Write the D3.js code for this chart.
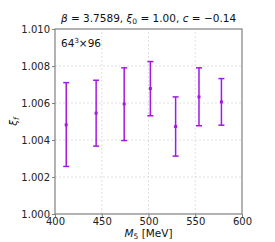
<!DOCTYPE html>
<html>
<head>
<meta charset="utf-8">
<script src="https://cdn.jsdelivr.net/npm/d3@7"></script>
<style>
  body { margin: 0; background: #fff; }
  text { font-family: "DejaVu Sans", sans-serif; }
</style>
</head>
<body>
<div id="chart"></div>
<script>
// chart values
const masses = [412, 444, 474, 502, 529, 554, 578]
const xiCentral = [1.00482, 1.00545, 1.00595, 1.00678, 1.00473, 1.00633, 1.00606]
const xiUpper = [1.0071, 1.00723, 1.0079, 1.00824, 1.00633, 1.0079, 1.00732]
const xiLower = [1.00257, 1.00367, 1.00397, 1.00531, 1.00313, 1.00477, 1.0048]
const xTicks = [400, 450, 500, 550, 600]
const yTicks = [1.000, 1.002, 1.004, 1.006, 1.008, 1.010]

const points = masses.map((m, i) => ({ m: m, c: xiCentral[i], hi: xiUpper[i], lo: xiLower[i] }))

const width = 275,
  height = 242
const margin = { top: 29, right: 33, bottom: 28, left: 55 }

const svg = d3.select("#chart").append("svg").attr("width", width).attr("height", height)

const x = d3.scaleLinear().domain([400, 600]).range([margin.left, width - margin.right])
const y = d3.scaleLinear().domain([1.0, 1.01]).range([height - margin.bottom, margin.top])

// grid lines (dashed)
svg
  .append("g")
  .selectAll("line")
  .data(xTicks.slice(1, -1))
  .enter()
  .append("line")
  .attr("x1", (d) => x(d))
  .attr("x2", (d) => x(d))
  .attr("y1", y.range()[0])
  .attr("y2", y.range()[1])
  .style("stroke", "#d8d8d8")
  .style("stroke-width", 0.8)
  .style("stroke-dasharray", "2,2")

svg
  .append("g")
  .selectAll("line")
  .data(yTicks.slice(1, -1))
  .enter()
  .append("line")
  .attr("x1", x.range()[0])
  .attr("x2", x.range()[1])
  .attr("y1", (d) => y(d))
  .attr("y2", (d) => y(d))
  .style("stroke", "#d8d8d8")
  .style("stroke-width", 0.8)
  .style("stroke-dasharray", "2,2")

// axes
const xAxis = svg
  .append("g")
  .attr("transform", `translate(0,${y.range()[0]})`)
  .call(d3.axisBottom(x).tickValues(xTicks).tickSize(3).tickPadding(2).tickFormat(d3.format("d")))

const yAxis = svg
  .append("g")
  .attr("transform", `translate(${x.range()[0]},0)`)
  .call(d3.axisLeft(y).tickValues(yTicks).tickSize(3).tickPadding(2).tickFormat(d3.format(".3f")))

;[xAxis, yAxis].forEach((a) => {
  a.select(".domain").remove()
  a.selectAll(".tick line").style("stroke", "#808080")
  a.selectAll(".tick text").style("font-size", "10px").style("fill", "#222")
})
xAxis.selectAll(".tick text").attr("dy", "0.6em")
yAxis.selectAll(".tick text").attr("dy", "0.35em")

// frame
svg
  .append("rect")
  .attr("x", x.range()[0])
  .attr("y", y.range()[1])
  .attr("width", x.range()[1] - x.range()[0])
  .attr("height", y.range()[0] - y.range()[1])
  .style("fill", "none")
  .style("stroke", "#808080")
  .style("stroke-width", 1.2)

// error bars
const color = "#9a00e0"
const bars = svg.append("g").selectAll("g").data(points).enter().append("g").style("opacity", 0.9)

bars
  .append("line")
  .attr("x1", (d) => x(d.m))
  .attr("x2", (d) => x(d.m))
  .attr("y1", (d) => y(d.lo))
  .attr("y2", (d) => y(d.hi))
  .style("stroke", color)
  .style("stroke-width", 1.5)

bars
  .selectAll(".cap")
  .data((d) => [d.lo, d.hi].map((v) => ({ m: d.m, v: v })))
  .enter()
  .append("line")
  .attr("x1", (d) => x(d.m) - 3)
  .attr("x2", (d) => x(d.m) + 3)
  .attr("y1", (d) => y(d.v))
  .attr("y2", (d) => y(d.v))
  .style("stroke", color)
  .style("stroke-width", 1.5)

bars
  .append("rect")
  .attr("x", (d) => x(d.m) - 1.5)
  .attr("y", (d) => y(d.c) - 1.5)
  .attr("width", 3)
  .attr("height", 3)
  .style("fill", color)

// texts
svg
  .append("text")
  .attr("x", (x.range()[0] + x.range()[1]) / 2)
  .attr("y", 22)
  .attr("text-anchor", "middle")
  .style("font-size", "10.5px")
  .style("fill", "#111")
  .html('<tspan font-style="italic">β</tspan> = 3.7589, <tspan font-style="italic">ξ</tspan><tspan font-size="7.5px" dy="2">0</tspan><tspan dy="-2"> = 1.00, </tspan><tspan font-style="italic">c</tspan> = −0.14')

svg
  .append("text")
  .attr("x", 61)
  .attr("y", 47)
  .style("font-size", "10.5px")
  .style("fill", "#111")
  .html('64<tspan font-size="7px" dy="-4">3</tspan><tspan dy="4">×96</tspan>')

svg
  .append("text")
  .attr("x", (x.range()[0] + x.range()[1]) / 2)
  .attr("y", 237)
  .attr("text-anchor", "middle")
  .style("font-size", "10.5px")
  .style("fill", "#111")
  .html('<tspan font-style="italic">M</tspan><tspan font-size="7.5px" dy="2">5</tspan><tspan dy="-2"> [MeV]</tspan>')

svg
  .append("text")
  .attr("transform", `translate(17,${(y.range()[0] + y.range()[1]) / 2}) rotate(-90)`)
  .attr("text-anchor", "middle")
  .style("font-size", "10.5px")
  .style("fill", "#111")
  .html('<tspan font-style="italic">ξ</tspan><tspan font-size="7.5px" font-style="italic" dy="2">f</tspan>')
</script>
</body>
</html>
